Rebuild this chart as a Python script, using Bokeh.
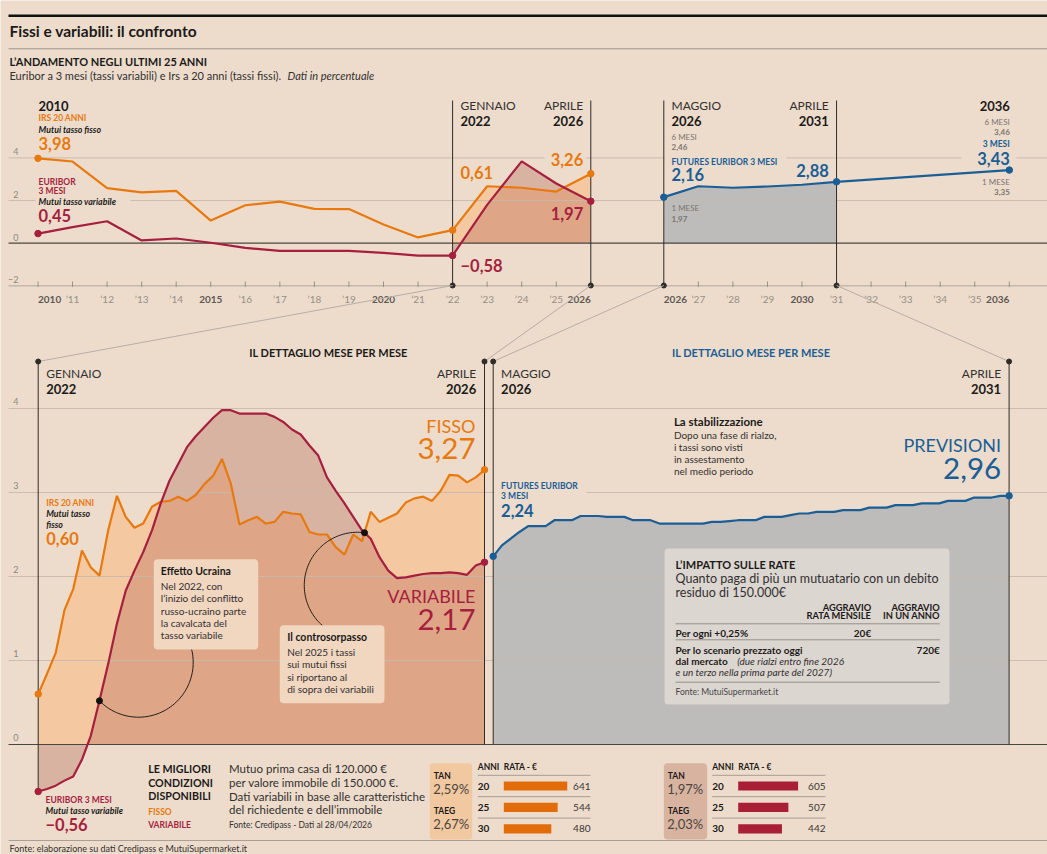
import numpy as np
from bokeh.plotting import figure
from bokeh.models import Range1d
from bokeh.embed import file_html
from bokeh.resources import INLINE
from bokeh.core.properties import value

W, H = 1047, 854

# ------------------------------------------------------------------ data
years_hist = [2010, 2011, 2012, 2013, 2014, 2015, 2016, 2017, 2018, 2019,
              2020, 2021, 2022, 2023, 2024, 2025, 2026]
irs20_annual = [3.98, 3.83, 2.58, 2.38, 2.45, 1.06, 1.78, 1.95, 1.61, 1.60,
                0.88, 0.27, 0.61, 2.67, 2.60, 2.42, 3.26]
euribor3m_annual = [0.45, 0.75, 1.03, 0.13, 0.22, 0.02, -0.22, -0.36, -0.36, -0.36,
                    -0.45, -0.58, -0.58, 1.80, 3.84, 2.80, 1.97]
hist_tick_labels = ["2010", "’11", "’12", "’13", "’14", "2015", "’16", "’17", "’18", "’19",
                    "2020", "’21", "’22", "’23", "’24", "’25", "2026"]

years_futures = [2026, 2027, 2028, 2029, 2030, 2031, 2036]
futures3m_annual = [2.16, 2.67, 2.60, 2.66, 2.74, 2.88, 3.43]
fut_tick_years = [2026, 2027, 2028, 2029, 2030, 2031, 2032, 2033, 2034, 2035, 2036]
fut_tick_labels = ["2026", "’27", "’28", "’29", "2030", "’31", "’32", "’33", "’34", "’35", "2036"]
futures1m_ends = [1.97, 3.35]
futures6m_ends = [2.46, 3.46]

# monthly, Jan 2022 - Apr 2026
irs20_monthly = [0.60, 0.84, 1.09, 1.60, 1.85, 2.31, 2.11, 2.01, 2.55, 2.96,
                 2.71, 2.58, 2.63, 2.83, 2.89, 2.90, 2.95, 2.90, 2.97, 3.10,
                 3.20, 3.40, 3.11, 2.62, 2.67, 2.71, 2.63, 2.65, 2.77, 2.75,
                 2.74, 2.53, 2.50, 2.50, 2.35, 2.26, 2.50, 2.42, 2.77, 2.65,
                 2.70, 2.75, 2.88, 2.93, 2.95, 2.90, 3.02, 3.21, 3.20, 3.12,
                 3.18, 3.27]
euribor3m_monthly = [-0.56, -0.53, -0.49, -0.43, -0.38, -0.18, 0.10, 0.52, 0.96, 1.44,
                     1.83, 2.07, 2.29, 2.55, 2.87, 3.14, 3.34, 3.54, 3.67, 3.78,
                     3.89, 3.98, 3.98, 3.94, 3.94, 3.94, 3.94, 3.90, 3.84, 3.75,
                     3.69, 3.56, 3.44, 3.18, 3.02, 2.87, 2.71, 2.55, 2.45, 2.23,
                     2.07, 1.98, 1.99, 2.01, 2.03, 2.04, 2.04, 2.05, 2.04, 2.02,
                     2.13, 2.17]
# monthly futures, May 2026 - Apr 2031
futures3m_monthly = [2.24, 2.37, 2.45, 2.53, 2.60, 2.60, 2.60, 2.67, 2.67, 2.67,
                     2.72, 2.72, 2.72, 2.71, 2.71, 2.71, 2.67, 2.67, 2.67, 2.63,
                     2.63, 2.63, 2.63, 2.63, 2.63, 2.65, 2.65, 2.66, 2.67, 2.67,
                     2.67, 2.71, 2.71, 2.71, 2.73, 2.75, 2.75, 2.77, 2.77, 2.77,
                     2.79, 2.79, 2.79, 2.82, 2.82, 2.82, 2.85, 2.85, 2.85, 2.87,
                     2.87, 2.87, 2.90, 2.90, 2.90, 2.94, 2.94, 2.94, 2.96, 2.96]

ytick_top = [4, 2, 0, -2]
ytick_bottom = [4, 3, 2, 1, 0]

loan_years = [20, 25, 30]
rata_fisso = [641, 544, 480]
rata_variabile = [605, 507, 442]
tan_fisso, taeg_fisso = 2.59, 2.67
tan_variabile, taeg_variabile = 1.97, 2.03
aggravio_mensile_025 = 20
aggravio_annuo_scenario = 720

UKRAINE_IDX = 7

# ------------------------------------------------------------------ styles
FONT = "Lato"
BG = "#eddccb"
INK = "#1c1a19"
TXT = "#333030"
GRAYTXT = "#7b7570"
ORANGE = "#e7790f"
RED = "#a61f3e"
BLUE = "#1b5e96"
ORANGE_FILL = "#f4c8a0"
RED_FILL = "#b46756"
GRAY_FILL = "#bdbcbb"
GRID = "#c6b9ad"
ZERO = "#4a4643"
VLINE = "#2e2b29"
CONNECT = "#b8aea4"
BOX_FILL = "#f1d6c0"
TABLE_FILL = "#dcd6d0"
TAN_F = "#f2c8a0"
TAN_V = "#d8b3a0"


class Scale:
    def __init__(self, v0, p0, v1, p1):
        self.v0, self.p0 = v0, p0
        self.k = (p1 - p0) / (v1 - v0)

    def __call__(self, v):
        return self.p0 + (v - self.v0) * self.k

    def inv(self, px):
        return self.v0 + (px - self.p0) / self.k

    def xrange(self):
        return Range1d(start=self.inv(0), end=self.inv(W))

    def yrange(self):
        return Range1d(start=self.inv(H), end=self.inv(0))


sx_hist = Scale(2010, 37.5, 2026, 590.3)
sx_fut = Scale(2026, 663.3, 2036, 1008.8)
sy_top = Scale(0, 242.7, 4, 157.4)
sx_m1 = Scale(0, 37.7, 51, 484.0)
sx_m2 = Scale(0, 492.7, 59, 1008.6)
sy_bot = Scale(0, 744.0, 4, 408.0)
sx_b1 = Scale(0, 503.3, 1000, 602.3)
sx_b2 = Scale(0, 737.7, 1000, 836.7)
sy_rows = Scale(0, 785.5, 1, 806.9)

p = figure(width=W, height=H, x_range=Range1d(0, W), y_range=Range1d(H, 0),
           output_backend="svg", toolbar_location=None, min_border=0,
           x_axis_location=None, y_axis_location=None,
           background_fill_color=BG, border_fill_color=BG, outline_line_color=None)
p.grid.visible = False
p.extra_x_ranges = {"hist": sx_hist.xrange(), "fut": sx_fut.xrange(),
                    "m1": sx_m1.xrange(), "m2": sx_m2.xrange(),
                    "b1": sx_b1.xrange(), "b2": sx_b2.xrange()}
p.extra_y_ranges = {"ytop": sy_top.yrange(), "ybot": sy_bot.yrange(),
                    "rows": sy_rows.yrange()}


def T(x, y, s, size=10, color=INK, style="normal", align="left", **kw):
    p.text(x=[x], y=[y], text=[s], text_font=value(FONT), text_font_size=f"{size}px",
           text_color=color, text_font_style=style, text_align=align,
           text_baseline="middle", **kw)


def fmt(v):
    return f"{v:.2f}".replace(".", ",").replace("-", "−")


def hseg(y, x0, x1, color, width=1.0, **kw):
    p.segment(x0=[x0], x1=[x1], y0=[y], y1=[y], line_color=color, line_width=width, **kw)


def bgbox(l, r, t, b, color=BG):
    p.quad(left=[l], right=[r], top=[t], bottom=[b], fill_color=color, line_color=None)


def rbox(l, r, t, b, color):
    try:
        p.quad(left=[l], right=[r], top=[t], bottom=[b], fill_color=color,
               line_color=None, border_radius=4)
    except Exception:
        p.quad(left=[l], right=[r], top=[t], bottom=[b], fill_color=color, line_color=None)


# ------------------------------------------------------------------ header
hseg(15.3, 8, W, "#111111", 2.6)
T(9, 30.5, "Fissi e variabili: il confronto", 15.5, INK, "bold")
hseg(48.3, 8, W, "#9d958f", 1)
T(9, 61, "L’ANDAMENTO NEGLI ULTIMI 25 ANNI", 11, INK, "bold")
T(9, 75, "Euribor a 3 mesi (tassi variabili) e Irs a 20 anni (tassi fissi).", 11, TXT)
T(287, 75, "Dati in percentuale", 11, TXT, "italic")

# ------------------------------------------------------------------ top chart fills
i22 = years_hist.index(2022)
yh = years_hist[i22:]
p.varea(x=yh, y1=[0] * len(yh), y2=irs20_annual[i22:], fill_color=ORANGE_FILL,
        x_range_name="hist", y_range_name="ytop")
p.varea(x=yh, y1=[0] * len(yh), y2=euribor3m_annual[i22:], fill_color=RED_FILL,
        fill_alpha=0.35, x_range_name="hist", y_range_name="ytop")
fy = [y for y in years_futures if y <= 2031]
p.varea(x=fy, y1=[0] * len(fy), y2=futures3m_annual[:len(fy)], fill_color=GRAY_FILL,
        x_range_name="fut", y_range_name="ytop")

# bottom fills
m1 = list(range(len(irs20_monthly)))
m2 = list(range(len(futures3m_monthly)))
p.varea(x=m1, y1=[0] * len(m1), y2=irs20_monthly, fill_color=ORANGE_FILL,
        x_range_name="m1", y_range_name="ybot")
p.varea(x=m1, y1=[0] * len(m1), y2=euribor3m_monthly, fill_color=RED_FILL,
        fill_alpha=0.35, x_range_name="m1", y_range_name="ybot")
p.varea(x=m2, y1=[0] * len(m2), y2=futures3m_monthly, fill_color=GRAY_FILL,
        x_range_name="m2", y_range_name="ybot")

# ------------------------------------------------------------------ grids
gt = [v for v in ytick_top if v not in (0, -2)]
p.segment(x0=[8] * len(gt), x1=[W] * len(gt), y0=gt, y1=gt, line_color=GRID,
          line_alpha=0.9, line_width=1, y_range_name="ytop")
p.segment(x0=[8], x1=[W], y0=[-2], y1=[-2], line_color="#b0a69c", line_width=1,
          y_range_name="ytop")
p.segment(x0=[8], x1=[W], y0=[0], y1=[0], line_color=ZERO, line_width=1.2,
          y_range_name="ytop")
gb = [v for v in ytick_bottom if v != 0]
p.segment(x0=[8] * len(gb), x1=[W] * len(gb), y0=gb, y1=gb, line_color=GRID,
          line_alpha=0.9, line_width=1, y_range_name="ybot")
p.segment(x0=[8], x1=[W], y0=[0], y1=[0], line_color=ZERO, line_width=1.2,
          y_range_name="ybot")

# label knock-outs on grid lines
bgbox(35, 130, 195.5, 206)
bgbox(544, 586, 151, 167)
bgbox(664, 786, 153, 168)
bgbox(961, 1016, 149, 166)
bgbox(494, 586, 480, 500)

# y tick labels
p.text(x=[18] * len(ytick_top), y=ytick_top,
       text=[str(v).replace("-", "−") for v in ytick_top], y_offset=-6,
       text_font=value(FONT), text_font_size="9px", text_color="#8e8780",
       text_align="right", text_baseline="middle", y_range_name="ytop")
p.text(x=[18] * len(ytick_bottom), y=ytick_bottom, text=[str(v) for v in ytick_bottom],
       y_offset=-7, text_font=value(FONT), text_font_size="9px", text_color="#8e8780",
       text_align="right", text_baseline="middle", y_range_name="ybot")

# x ticks and tick labels (top chart)
p.segment(x0=years_hist, x1=years_hist, y0=[281] * len(years_hist), y1=[286.5] * len(years_hist),
          line_color="#9a9088", line_width=1, x_range_name="hist")
p.segment(x0=fut_tick_years, x1=fut_tick_years, y0=[281] * len(fut_tick_years),
          y1=[286.5] * len(fut_tick_years), line_color="#9a9088", line_width=1, x_range_name="fut")


def tick_labels(years, labels, rng):
    major = {"2010", "2015", "2020", "2026", "2030", "2036"}
    for i, (yv, lab) in enumerate(zip(years, labels)):
        align = "center"
        if i == 0:
            align = "left"
        elif i == len(years) - 1:
            align = "right"
        if lab in major:
            color, style = "#5e5852", "bold"
        else:
            color, style = "#968f88", "normal"
        p.text(x=[yv], y=[298.5], text=[lab], text_font=value(FONT), text_font_size="10px",
               text_color=color, text_font_style=style, text_align=align,
               text_baseline="middle", x_range_name=rng)


tick_labels(years_hist, hist_tick_labels, "hist")
tick_labels(fut_tick_years, fut_tick_labels, "fut")

# ------------------------------------------------------------------ vertical markers
p.segment(x0=[2022, 2026], x1=[2022, 2026], y0=[100, 100], y1=[285, 285],
          line_color=VLINE, line_width=1, x_range_name="hist")
p.segment(x0=[2026, 2031], x1=[2026, 2031], y0=[100, 100], y1=[285, 285],
          line_color=VLINE, line_width=1, x_range_name="fut")
p.scatter(x=[2022, 2026], y=[285, 285], size=5, color=VLINE, x_range_name="hist")
p.scatter(x=[2026, 2031], y=[285, 285], size=5, color=VLINE, x_range_name="fut")

# connectors between top and bottom
TOPY, BOTY = 285, 361
cx0 = [sx_hist(2022), sx_hist(2026), sx_fut(2026), sx_fut(2031)]
cx1 = [sx_m1(0), sx_m1(len(m1) - 1), sx_m2(0), sx_m2(len(m2) - 1)]
p.segment(x0=cx0, x1=cx1, y0=[TOPY] * 4, y1=[BOTY] * 4, line_color=CONNECT, line_width=1)

p.segment(x0=[0], x1=[0], y0=[BOTY], y1=[sy_bot(euribor3m_monthly[0])], line_color=VLINE,
          line_width=1, x_range_name="m1")
p.segment(x0=[len(m1) - 1], x1=[len(m1) - 1], y0=[BOTY], y1=[744], line_color=VLINE,
          line_width=1, x_range_name="m1")
p.segment(x0=[0, len(m2) - 1], x1=[0, len(m2) - 1], y0=[BOTY, BOTY], y1=[744, 744],
          line_color=VLINE, line_width=1, x_range_name="m2")
p.scatter(x=[0, len(m1) - 1], y=[BOTY, BOTY], size=5, color=VLINE, x_range_name="m1")
p.scatter(x=[0, len(m2) - 1], y=[BOTY, BOTY], size=5, color=VLINE, x_range_name="m2")

# ------------------------------------------------------------------ data lines
p.line(years_hist, irs20_annual, line_color=ORANGE, line_width=2.2,
       x_range_name="hist", y_range_name="ytop")
p.line(years_hist, euribor3m_annual, line_color=RED, line_width=2.2,
       x_range_name="hist", y_range_name="ytop")
p.line(years_futures, futures3m_annual, line_color=BLUE, line_width=2.2,
       x_range_name="fut", y_range_name="ytop")
sel = [0, i22, len(years_hist) - 1]
p.scatter([years_hist[i] for i in sel], [irs20_annual[i] for i in sel], size=6.5,
          color=ORANGE, x_range_name="hist", y_range_name="ytop")
p.scatter([years_hist[i] for i in sel], [euribor3m_annual[i] for i in sel], size=6.5,
          color=RED, x_range_name="hist", y_range_name="ytop")
fsel = [0, years_futures.index(2031), len(years_futures) - 1]
p.scatter([years_futures[i] for i in fsel], [futures3m_annual[i] for i in fsel], size=6.5,
          color=BLUE, x_range_name="fut", y_range_name="ytop")

p.line(m1, irs20_monthly, line_color=ORANGE, line_width=2.2, x_range_name="m1", y_range_name="ybot")
p.line(m1, euribor3m_monthly, line_color=RED, line_width=2.2, x_range_name="m1", y_range_name="ybot")
p.line(m2, futures3m_monthly, line_color=BLUE, line_width=2.2, x_range_name="m2", y_range_name="ybot")
e1 = [0, len(m1) - 1]
p.scatter(e1, [irs20_monthly[i] for i in e1], size=6.5, color=ORANGE, x_range_name="m1", y_range_name="ybot")
p.scatter(e1, [euribor3m_monthly[i] for i in e1], size=6.5, color=RED, x_range_name="m1", y_range_name="ybot")
e2 = [0, len(m2) - 1]
p.scatter(e2, [futures3m_monthly[i] for i in e2], size=6.5, color=BLUE, x_range_name="m2", y_range_name="ybot")

# ------------------------------------------------------------------ annotations (arcs + boxes)
ux, uy = sx_m1(UKRAINE_IDX), sy_bot(euribor3m_monthly[UKRAINE_IDX])
c1 = (138.0, 662.0)
r1 = float(np.hypot(ux - c1[0], uy - c1[1]))
a_end = np.arctan2(uy - c1[1], ux - c1[0])
th = np.linspace(np.radians(-25), a_end, 60)
p.line(c1[0] + r1 * np.cos(th), c1[1] + r1 * np.sin(th), line_color="#1f1d1c", line_width=1)

# crossing point after the peak (fixed rates back above variable)
d = np.array(irs20_monthly) - np.array(euribor3m_monthly)
k = next(i for i in range(30, len(d) - 1) if d[i] < 0 <= d[i + 1])
t = d[k] / (d[k] - d[k + 1])
cross_m = k + t
cross_v = irs20_monthly[k] + t * (irs20_monthly[k + 1] - irs20_monthly[k])
qx, qy = sx_m1(cross_m), sy_bot(cross_v)
c2 = (357.0, 585.0)
r2 = float(np.hypot(qx - c2[0], qy - c2[1]))
a0 = np.arctan2(qy - c2[1], qx - c2[0])
th2 = np.linspace(a0, np.radians(-232), 80)
p.line(c2[0] + r2 * np.cos(th2), c2[1] + r2 * np.sin(th2), line_color="#1f1d1c", line_width=1)

p.scatter([UKRAINE_IDX, cross_m], [euribor3m_monthly[UKRAINE_IDX], cross_v], size=6,
          color="#111111", x_range_name="m1", y_range_name="ybot")

rbox(153.3, 257.7, 558.7, 649.0, BOX_FILL)
T(160.3, 570.7, "Effetto Ucraina", 10.5, INK, "bold")
for i, s in enumerate(["Nel 2022, con", "l’inizio del conflitto", "russo-ucraino parte",
                       "la cavalcata del", "tasso variabile"]):
    T(160.3, 585.7 + i * 12.25, s, 10, TXT)

rbox(279.3, 384.0, 624.7, 702.7, BOX_FILL)
T(286.7, 636.3, "Il controsorpasso", 10.5, INK, "bold")
for i, s in enumerate(["Nel 2025 i tassi", "sui mutui fissi", "si riportano al",
                       "di sopra dei variabili"]):
    T(286.7, 651.7 + i * 12.2, s, 10, TXT)

# table box
rbox(664, 949, 548, 704, TABLE_FILL)
T(675, 564, "L’IMPATTO SULLE RATE", 11, INK, "bold")
T(675, 578.3, "Quanto paga di più un mutuatario con un debito", 12.5, TXT)
T(675, 591.7, "residuo di 150.000€", 12.5, TXT)
T(870.7, 606.5, "AGGRAVIO", 9.3, INK, "bold", "right")
T(870.7, 615, "RATA MENSILE", 9.3, INK, "bold", "right")
T(939.3, 606.5, "AGGRAVIO", 9.3, INK, "bold", "right")
T(939.3, 615, "IN UN ANNO", 9.3, INK, "bold", "right")
for yy in (623.3, 639.3, 681.7):
    hseg(yy, 675, 939.3, "#958f8a", 1)
T(675, 632.7, "Per ogni +0,25%", 10, INK, "bold")
T(870.7, 632.7, f"{aggravio_mensile_025}€", 10, INK, "bold", "right")
T(675, 649.7, "Per lo scenario prezzato oggi", 10, INK, "bold")
T(939.3, 649.7, f"{aggravio_annuo_scenario}€", 10, INK, "bold", "right")
T(675, 660.7, "dal mercato", 10, INK, "bold")
T(736.7, 660.7, "(due rialzi entro fine 2026", 10, TXT, "italic")
T(675, 671.7, "e un terzo nella prima parte del 2027)", 10, TXT, "italic")
T(675, 691.7, "Fonte: MutuiSupermarket.it", 8.5, "#444")

# ------------------------------------------------------------------ top texts
T(38, 105, "2010", 13, INK, "bold")
T(38, 117.7, "IRS 20 ANNI", 8.5, ORANGE, "bold")
T(38, 128.7, "Mutui tasso fisso", 8.8, INK, "bold italic")
T(38, 142.7, fmt(irs20_annual[0]), 16.5, ORANGE, "bold")
T(38, 181, "EURIBOR", 8.5, RED, "bold")
T(38, 190.3, "3 MESI", 8.5, RED, "bold")
T(38, 200.7, "Mutui tasso variabile", 8.8, INK, "bold italic")
T(38, 215, fmt(euribor3m_annual[0]), 16.5, RED, "bold")

T(460, 105, "GENNAIO", 12, TXT)
T(460, 120, "2022", 13, INK, "bold")
T(460, 171.7, fmt(irs20_annual[i22]), 16.5, ORANGE, "bold")
T(460, 265, fmt(euribor3m_annual[i22]), 16.5, RED, "bold")
T(582.7, 105, "APRILE", 12, TXT, align="right")
T(582.7, 120, "2026", 13, INK, "bold", "right")
T(582.7, 159.3, fmt(irs20_annual[-1]), 16.5, ORANGE, "bold", "right")
T(582.7, 213.3, fmt(euribor3m_annual[-1]), 16.5, RED, "bold", "right")

T(671, 105, "MAGGIO", 12, TXT)
T(671, 120, "2026", 13, INK, "bold")
T(671, 136.7, "6 MESI", 8, GRAYTXT)
T(671, 146.7, fmt(futures6m_ends[0]), 8, GRAYTXT, "bold")
T(671, 161, "FUTURES EURIBOR 3 MESI", 8.5, BLUE, "bold")
T(671, 174.3, fmt(futures3m_annual[0]), 16.5, BLUE, "bold")
T(671, 207.7, "1 MESE", 8, GRAYTXT)
T(671, 218.3, fmt(futures1m_ends[0]), 8, GRAYTXT, "bold")
T(828.3, 105, "APRILE", 12, TXT, align="right")
T(828.3, 120, "2031", 13, INK, "bold", "right")
T(828.3, 170, fmt(futures3m_annual[years_futures.index(2031)]), 16.5, BLUE, "bold", "right")
T(1009.3, 105, "2036", 13, INK, "bold", "right")
T(1009.3, 121.7, "6 MESI", 8, GRAYTXT, align="right")
T(1009.3, 131.7, fmt(futures6m_ends[1]), 8, GRAYTXT, "bold", "right")
T(1009.3, 143.3, "3 MESI", 8.5, BLUE, "bold", "right")
T(1009.3, 157.7, fmt(futures3m_annual[-1]), 16.5, BLUE, "bold", "right")
T(1009.3, 181.7, "1 MESE", 8, GRAYTXT, align="right")
T(1009.3, 191.7, fmt(futures1m_ends[1]), 8, GRAYTXT, "bold", "right")

# ------------------------------------------------------------------ bottom texts
T(328, 352, "IL DETTAGLIO MESE PER MESE", 11, INK, "bold", "center")
T(750.6, 352, "IL DETTAGLIO MESE PER MESE", 11, BLUE, "bold", "center")
T(45.7, 372.7, "GENNAIO", 12, TXT)
T(45.7, 388.3, "2022", 13, INK, "bold")
T(475.7, 372.7, "APRILE", 12, TXT, align="right")
T(475.7, 388.3, "2026", 13, INK, "bold", "right")
T(500.6, 372.7, "MAGGIO", 12, TXT)
T(500.6, 388.3, "2026", 13, INK, "bold")
T(1000.6, 372.7, "APRILE", 12, TXT, align="right")
T(1000.6, 388.3, "2031", 13, INK, "bold", "right")

T(475, 425, "FISSO", 18, ORANGE, align="right")
T(475, 448.3, fmt(irs20_monthly[-1]), 29.5, ORANGE, align="right")
T(475, 595, "VARIABILE", 18, RED, align="right")
T(475, 619.3, fmt(euribor3m_monthly[-1]), 29.5, RED, align="right")

T(45.7, 502.3, "IRS 20 ANNI", 8.5, ORANGE, "bold")
T(45.7, 513.3, "Mutui tasso", 8.8, INK, "bold italic")
T(45.7, 524, "fisso", 8.8, INK, "bold italic")
T(45.7, 538.3, fmt(irs20_monthly[0]), 16.5, ORANGE, "bold")

T(500.6, 485, "FUTURES EURIBOR", 8.5, BLUE, "bold")
T(500.6, 495.3, "3 MESI", 8.5, BLUE, "bold")
T(500.6, 510, fmt(futures3m_monthly[0]), 16.5, BLUE, "bold")

T(673.4, 421, "La stabilizzazione", 11.5, INK, "bold")
for i, s in enumerate(["Dopo una fase di rialzo,", "i tassi sono visti",
                       "in assestamento", "nel medio periodo"]):
    T(673.4, 434 + i * 12.3, s, 10, TXT)
T(1000.6, 444.3, "PREVISIONI", 18, BLUE, align="right")
T(1000.6, 468.3, fmt(futures3m_monthly[-1]), 29.5, BLUE, align="right")

T(45, 799, "EURIBOR 3 MESI", 8.5, RED, "bold")
T(45, 810, "Mutui tasso variabile", 8.8, INK, "bold italic")
T(45, 824.3, fmt(euribor3m_monthly[0]), 16.5, RED, "bold")

# ------------------------------------------------------------------ bottom strip
T(147.7, 768.3, "LE MIGLIORI", 10.7, INK, "bold")
T(147.7, 781.7, "CONDIZIONI", 10.7, INK, "bold")
T(147.7, 795, "DISPONIBILI", 10.7, INK, "bold")
T(147.7, 811.7, "FISSO", 8.5, ORANGE, "bold")
T(147.7, 824.3, "VARIABILE", 8.5, RED, "bold")
for i, s in enumerate(["Mutuo prima casa di 120.000 €", "per valore immobile di 150.000 €.",
                       "Dati variabili in base alle caratteristiche",
                       "del richiedente e dell’immobile"]):
    T(228.5, 768.3 + i * 13.7, s, 11.5, TXT)
T(228.5, 824.3, "Fonte: Credipass - Dati al 28/04/2026", 8.5, TXT)


def rate_table(box_l, box_r, col_x, bar_rng, value_r, rates, tan, taeg, box_color, bar_color):
    rbox(box_l, box_r, 762.7, 839, box_color)
    T(box_l + 4, 775, "TAN", 8.5, INK, "bold")
    T(box_l + 3.5, 788.5, f"{tan:.2f}%".replace(".", ","), 13, "#4a4541")
    T(box_l + 4, 810.7, "TAEG", 8.5, INK, "bold")
    T(box_l + 3.5, 823.3, f"{taeg:.2f}%".replace(".", ","), 13, "#4a4541")
    T(col_x, 766.7, "ANNI", 8.5, INK, "bold")
    T(col_x + 26, 766.7, "RATA - €", 8.5, INK, "bold")
    seps = [-0.5, 0.5, 1.5]
    p.segment(x0=[col_x] * 3, x1=[value_r] * 3, y0=seps, y1=seps, line_color="#a59c94",
              line_width=1, y_range_name="rows")
    rows = list(range(len(loan_years)))
    p.text(x=[col_x] * len(rows), y=rows, text=[str(a) for a in loan_years],
           text_font=value(FONT), text_font_size="10px", text_font_style="bold",
           text_color=INK, text_baseline="middle", y_range_name="rows")
    p.hbar(y=rows, left=[0] * len(rows), right=rates, height=0.43, fill_color=bar_color,
           line_color=None, x_range_name=bar_rng, y_range_name="rows")
    p.text(x=[value_r] * len(rows), y=rows, text=[str(r) for r in rates],
           text_font=value(FONT), text_font_size="10px", text_color="#3a3633",
           text_align="right", text_baseline="middle", y_range_name="rows")


rate_table(429.3, 471.7, 477.3, "b1", 590, rata_fisso, tan_fisso, taeg_fisso, TAN_F, "#e36c0a")
rate_table(663.3, 706.7, 711.7, "b2", 825, rata_variabile, tan_variabile, taeg_variabile,
           TAN_V, "#a81f36")

hseg(840, 8, W, "#a8a098", 1)
T(9, 848, "Fonte: elaborazione su dati Credipass e MutuiSupermarket.it", 9, TXT)

open("out.html", "w").write(file_html(p, INLINE))
